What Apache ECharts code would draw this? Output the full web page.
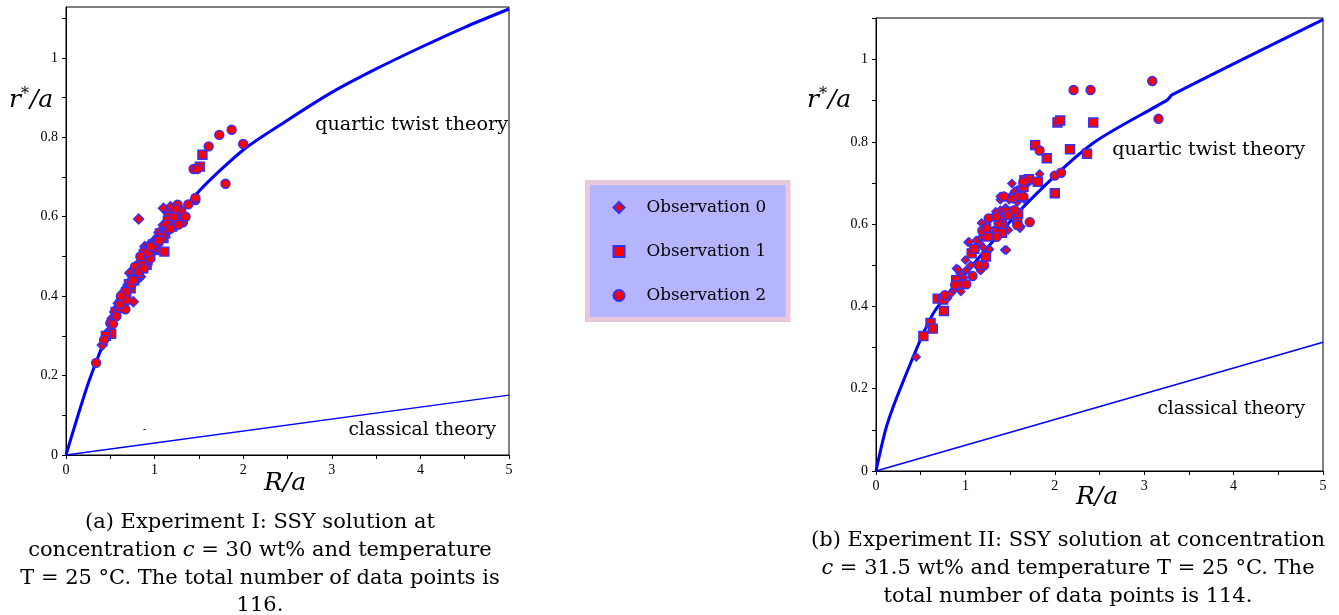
<!DOCTYPE html>
<html>
<head>
<meta charset="utf-8">
<script src="https://cdn.jsdelivr.net/npm/echarts@6/dist/echarts.min.js"></script>
<style>
  html, body { margin: 0; padding: 0; background: #fff; }
  #chart { width: 1339px; height: 615px; }
</style>
</head>
<body>
<div id="chart"></div>
<script>
// ---- data ----
// Experiment I (left panel)
const leftObs0 = [[0.41,0.277],[0.47,0.308],[0.52,0.344],[0.59,0.382],[0.63,0.399],[0.76,0.386],[0.70,0.428],[0.74,0.441],[0.78,0.458],[0.82,0.594],[1.10,0.621],[1.18,0.625],[1.10,0.579],[0.89,0.525],[0.91,0.512],[0.86,0.50],[0.84,0.449],[0.72,0.458],[0.80,0.47],[0.85,0.48],[0.88,0.515],[0.93,0.52],[0.95,0.53],[0.68,0.42],[0.66,0.40],[0.62,0.39],[0.55,0.36],[0.48,0.31],[0.75,0.45],[0.83,0.485],[0.97,0.51],[1.02,0.545],[1.05,0.56],[1.15,0.61],[1.20,0.60],[0.90,0.50],[0.79,0.44],[0.65,0.41],[0.58,0.37],[1.25,0.62]];
const leftObs1 = [[0.51,0.305],[0.45,0.30],[0.56,0.36],[0.64,0.395],[0.71,0.43],[0.77,0.44],[0.91,0.479],[0.99,0.516],[1.02,0.533],[1.06,0.558],[1.12,0.558],[1.10,0.546],[1.11,0.512],[1.16,0.60],[1.25,0.594],[1.19,0.584],[1.54,0.756],[1.51,0.726],[1.08,0.55],[1.14,0.57],[1.21,0.59],[1.00,0.52],[0.95,0.50],[0.87,0.47],[0.82,0.455],[0.73,0.42],[0.68,0.41],[0.60,0.37],[1.28,0.60],[1.15,0.59],[0.98,0.53],[0.88,0.49],[0.79,0.465],[1.04,0.54],[0.92,0.49],[1.20,0.575]];
const leftObs2 = [[0.34,0.232],[0.43,0.29],[0.50,0.332],[0.67,0.367],[0.78,0.474],[0.82,0.462],[0.95,0.495],[1.26,0.63],[1.38,0.631],[1.46,0.642],[1.32,0.586],[1.87,0.819],[1.73,0.806],[2.00,0.783],[1.61,0.777],[1.44,0.72],[1.48,0.72],[1.80,0.683],[1.46,0.647],[1.30,0.615],[0.61,0.38],[0.69,0.39],[0.74,0.43],[0.86,0.48],[0.92,0.51],[1.00,0.53],[1.05,0.54],[1.22,0.60],[1.27,0.58],[1.35,0.60],[0.57,0.35],[0.53,0.33],[0.62,0.40],[0.88,0.47],[1.13,0.58],[1.18,0.57],[0.96,0.525],[0.84,0.50],[0.76,0.44],[1.24,0.62]];
const leftQuartic = [[0,0],[0.264,0.189],[0.553,0.348],[0.875,0.491],[1.48,0.659],[2.0,0.768],[2.5,0.843],[3.0,0.913],[3.5,0.972],[4.0,1.026],[4.5,1.077],[5,1.123]];
const leftClassical = [[0,0],[5,0.151]];

// Experiment II (right panel)
const rightObs0 = [[0.45,0.277],[0.84,0.432],[0.87,0.44],[0.95,0.436],[0.94,0.48],[0.90,0.492],[1.01,0.488],[1.00,0.513],[1.11,0.537],[1.03,0.556],[1.17,0.487],[1.16,0.553],[1.20,0.543],[1.26,0.537],[1.44,0.537],[1.18,0.569],[1.30,0.569],[1.48,0.586],[1.26,0.61],[1.31,0.618],[1.18,0.603],[1.41,0.614],[1.39,0.634],[1.62,0.594],[1.39,0.659],[1.39,0.667],[1.52,0.699],[1.49,0.659],[1.52,0.671],[1.58,0.683],[1.58,0.654],[1.63,0.687],[1.83,0.722],[1.13,0.50],[1.07,0.529],[0.92,0.49],[1.27,0.539],[1.46,0.537],[1.61,0.59],[1.04,0.557],[0.98,0.47],[1.06,0.50],[1.22,0.58],[1.34,0.63],[1.45,0.64],[1.55,0.68],[1.35,0.59],[1.12,0.56],[0.80,0.42],[1.24,0.60],[1.43,0.60],[1.70,0.70],[1.66,0.66],[1.50,0.62],[1.28,0.575]];
const rightObs1 = [[0.53,0.328],[0.61,0.36],[0.635,0.346],[0.76,0.389],[0.69,0.419],[0.75,0.417],[0.896,0.464],[1.07,0.529],[1.23,0.521],[1.35,0.582],[1.41,0.579],[1.41,0.60],[1.58,0.61],[1.59,0.626],[1.61,0.670],[1.65,0.691],[1.66,0.707],[1.71,0.709],[1.81,0.703],[1.78,0.792],[1.91,0.76],[2.00,0.675],[2.03,0.847],[2.06,0.852],[2.17,0.782],[2.36,0.771],[2.43,0.847],[1.46,0.63],[1.25,0.57],[1.10,0.54]];
const rightObs2 = [[0.77,0.427],[0.885,0.452],[0.96,0.454],[1.01,0.454],[1.08,0.474],[1.21,0.50],[1.15,0.50],[1.19,0.584],[1.24,0.59],[1.35,0.569],[1.37,0.602],[1.26,0.614],[1.35,0.618],[1.48,0.622],[1.58,0.598],[1.72,0.605],[1.55,0.634],[1.43,0.667],[1.54,0.663],[1.59,0.667],[1.65,0.703],[1.65,0.667],[1.83,0.779],[2.00,0.718],[2.07,0.725],[2.21,0.926],[2.40,0.926],[3.09,0.948],[3.16,0.856]];
const rightQuartic = [[0,0],[0.12,0.11],[0.31,0.221],[0.64,0.383],[1.13,0.513],[1.69,0.651],[2.43,0.797],[3.26,0.902],[3.31,0.914],[5,1.097]];
const rightClassical = [[0,0],[5,0.313]];

const obsNames = ["Observation 0", "Observation 1", "Observation 2"];
const xTicks = [0, 1, 2, 3, 4, 5];

const TICKFONT = "'Liberation Serif', serif";
const SERIF = "'DejaVu Serif', serif";
const RED = "#ff0000";
const BLUE = "#0000ff";

const chart = echarts.init(document.getElementById("chart"), null, { renderer: "canvas" });

function xAxisCfg(gridIndex) {
  return {
    gridIndex, type: "value", min: 0, max: 5, interval: 0.5,
    axisLine: { lineStyle: { color: "#000", width: 1 } },
    axisTick: { length: 4, lineStyle: { color: "#000" } },
    splitLine: { show: false },
    axisLabel: {
      color: "#000", fontFamily: TICKFONT, fontSize: 14, margin: 8,
      formatter: (v) => (xTicks.includes(v) ? String(v) : ""),
    },
  };
}

function yAxisCfg(gridIndex, max) {
  return {
    gridIndex, type: "value", min: 0, max, interval: 0.1,
    axisLine: { show: true, lineStyle: { color: "#000", width: 1 } },
    axisTick: { show: true, length: 4, lineStyle: { color: "#000" } },
    splitLine: { show: false },
    axisLabel: {
      color: "#000", fontFamily: TICKFONT, fontSize: 14, margin: 8, showMaxLabel: false,
      formatter: (v) => {
        const k = v * 5;
        if (Math.abs(k - Math.round(k)) > 1e-6 || v > 1.05) return "";
        return String(Math.round(v * 10) / 10);
      },
    },
  };
}

function scatter(name, data, idx, symbol, size) {
  return {
    name, type: "scatter", xAxisIndex: idx, yAxisIndex: idx,
    data, symbol, symbolSize: size,
    itemStyle: { color: RED, borderColor: "#3030ff", borderWidth: 1.4, opacity: 1 },
    z: 3,
  };
}

function line(data, idx, width) {
  return {
    type: "line", xAxisIndex: idx, yAxisIndex: idx, data,
    showSymbol: false, smooth: 0.25, silent: true,
    lineStyle: { color: BLUE, width }, z: 2,
  };
}

const captionRich = {
  n: { fontFamily: SERIF, fontSize: 21, fill: "#000" },
  i: { fontFamily: SERIF, fontSize: 21, fontStyle: "italic", fill: "#000" },
};

function centeredText(cx, y, str) {
  return { type: "text", x: cx, y, style: { text: str, rich: captionRich, align: "center", verticalAlign: "middle" } };
}

const axisNameRich = {
  i: { fontFamily: SERIF, fontSize: 25, fontStyle: "italic", fill: "#000" },
  s: { fontFamily: SERIF, fontSize: 16, fill: "#000", verticalAlign: "top", padding: [0, 1, 11, 0] },
};

function label(x, y, str, size) {
  return { type: "text", x, y, style: { text: str, fill: "#000", font: size + "px " + SERIF, align: "right", verticalAlign: "middle" } };
}

chart.setOption({
  animation: false,
  backgroundColor: "#fff",
  grid: [
    { left: 66, top: 7, width: 443, height: 448, show: true, borderColor: "#000", borderWidth: 1 },
    { left: 876, top: 18, width: 447, height: 453, show: true, borderColor: "#000", borderWidth: 1 },
  ],
  xAxis: [xAxisCfg(0), xAxisCfg(1)],
  yAxis: [yAxisCfg(0, 1.128), yAxisCfg(1, 1.101)],
  legend: {
    data: obsNames,
    orient: "vertical",
    left: 587.5, top: 182.5,
    padding: [15, 22, 14, 25],
    itemWidth: 11, itemHeight: 11, itemGap: 24,
    backgroundColor: "#b4b4ff",
    borderColor: "#e8c8da", borderWidth: 5,
    textStyle: { fontFamily: SERIF, fontSize: 16.8, color: "#000", lineHeight: 20, padding: [0, 0, 0, 17] },
  },
  series: [
    scatter(obsNames[0], leftObs0, 0, "diamond", 10),
    scatter(obsNames[1], leftObs1, 0, "rect", 9),
    scatter(obsNames[2], leftObs2, 0, "circle", 9),
    line(leftQuartic, 0, 3),
    line(leftClassical, 0, 1.3),
    scatter(obsNames[0], rightObs0, 1, "diamond", 8),
    scatter(obsNames[1], rightObs1, 1, "rect", 9),
    scatter(obsNames[2], rightObs2, 1, "circle", 9),
    line(rightQuartic, 1, 3),
    line(rightClassical, 1, 1.5),
  ],
  graphic: [
    // axis names
    { type: "text", x: 9, y: 100, style: { text: "{i|r}{s|*}{i|/a}", rich: axisNameRich, verticalAlign: "middle" } },
    { type: "text", x: 264, y: 483, style: { text: "{i|R/a}", rich: axisNameRich, verticalAlign: "middle" } },
    { type: "text", x: 807, y: 100, style: { text: "{i|r}{s|*}{i|/a}", rich: axisNameRich, verticalAlign: "middle" } },
    { type: "text", x: 1076, y: 497, style: { text: "{i|R/a}", rich: axisNameRich, verticalAlign: "middle" } },
    // curve labels
    label(508, 125, "quartic twist theory", 19.2),
    label(496, 430, "classical theory", 18.7),
    label(1305, 150, "quartic twist theory", 19.2),
    label(1305, 409, "classical theory", 18.7),
    { type: "text", x: 143, y: 424, style: { text: "-", fill: "#000", font: "10px " + TICKFONT } },
    // captions
    centeredText(260, 523, "{n|(a) Experiment I: SSY solution at}"),
    centeredText(260, 551, "{n|concentration }{i|c}{n| = 30 wt% and temperature}"),
    centeredText(260, 579, "{n|T = 25 °C. The total number of data points is}"),
    centeredText(260, 606, "{n|116.}"),
    centeredText(1068, 541, "{n|(b) Experiment II: SSY solution at concentration}"),
    centeredText(1068, 569, "{i|c}{n| = 31.5 wt% and temperature T = 25 °C. The}"),
    centeredText(1068, 597, "{n|total number of data points is 114.}"),
  ],
});
</script>
</body>
</html>
